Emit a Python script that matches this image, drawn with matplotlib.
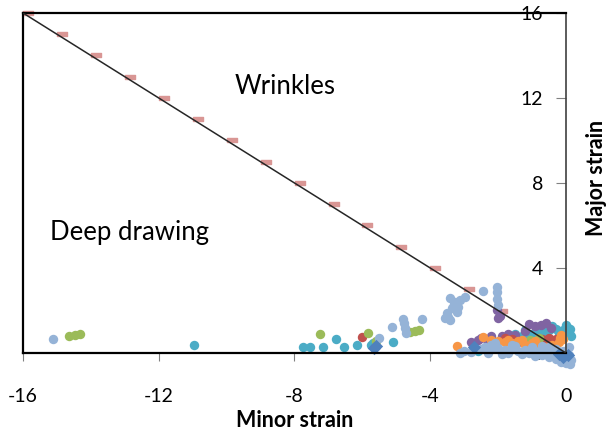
import numpy as np
import matplotlib
matplotlib.use("Agg")
import matplotlib.pyplot as plt
from matplotlib.path import Path

plt.rcParams['font.family'] = ['Lato', 'DejaVu Sans']

# forming limit boundary (wrinkle line) and its markers
line_x = [-16, 0]
line_y = [16, 0]
bound_y = [16, 15, 14, 13, 12, 11, 10, 9, 8, 7, 6, 5, 4, 3, 2, 1]
bound_x = [-15.85, -14.85, -13.85, -12.85, -11.85, -10.85, -9.85, -8.85,
           -7.85, -6.85, -5.85, -4.85, -3.86, -2.85, -1.89, -0.92]

# measured strain points, one list per series (x = minor, y = major)
lblue_x = [-15.12, -5.5, -5.14, -4.79, -4.77, -4.75, -4.72, -4.25,
           -3.57, -3.47, -3.42, -3.37, -3.17, -3.42, -3.27, -3.12, -2.98, -3.3,
           -3.5, -3.2, -2.44, -2.04, -2.04, -2.02, -2.0, -3.12, -3.0, -2.8,
           -2.5, -2.4, -2.2, -2.0, -1.8, -1.6, -1.4, -1.2, -1.0, -0.8, -0.6, -0.4,
           -0.2, 0.0, 0.1, -0.1, -0.3, -0.5, -0.7, -1.5, -2.2, -0.9, 0.15,
           -2.3, -1.9, -1.7, -1.3, -1.1, -0.7, -0.5, -0.3, 0.0, 0.12, -0.15,
           -1.0, -1.6, -2.1, -0.4, 0.08]
lblue_y = [0.64, 0.7, 1.24, 1.58, 1.40, 1.16, 0.96, 1.58,
           1.63, 1.71, 1.55, 2.10, 2.18, 2.57, 2.41, 2.49, 2.65, 2.3,
           1.9, 1.95, 2.93, 3.12, 2.85, 2.55, 2.26, 0.0, 0.1, 0.05,
           0.2, 0.3, 0.2, 0.25, 0.15, 0.2, 0.1, 0.15, 0.05, 0.1, 0.0, -0.05,
           -0.15, -0.25, -0.1, 0.1, 0.2, 0.3, 0.35, 0.35, 0.4, -0.15, -0.35,
           0.0, -0.05, 0.0, -0.05, 0.0, -0.1, -0.2, -0.3, -0.45, -0.5, -0.4,
           0.3, 0.4, 0.45, 0.1, 0.3]
green_x = [-14.64, -14.47, -14.32, -7.25, -5.83, -5.6, -4.6, -4.45, -4.32, -1.06, -0.8]
green_y = [0.80, 0.86, 0.89, 0.89, 0.96, 0.55, 1.0, 1.05, 1.08, 0.6, 0.7]
aqua_x = [-10.95, -7.76, -7.54, -7.17, -6.78, -6.54, -6.17, -5.69, -5.75, -5.11,
          -2.7, -2.6, -1.3, -1.1, -0.9, -0.7, -0.5, -0.3, -0.1, 0.1, 0.15,
          -0.2, -0.6, -1.0, 0.05, -1.2, -0.8, -0.4, 0.0, 0.12, -1.5]
aqua_y = [0.38, 0.27, 0.27, 0.27, 0.64, 0.30, 0.38, 0.47, 0.40, 0.53,
          0.2, 0.1, 0.8, 0.9, 1.0, 1.05, 1.1, 1.15, 1.1, 1.0, 0.8,
          0.95, 0.85, 0.75, 1.2, 1.1, 1.2, 1.25, 1.3, 1.15, 0.9]
red_x = [-6.02, -1.8, -1.6, -0.8, -0.6, -0.4, -0.5, -0.3, -0.7, -0.35]
red_y = [0.74, 0.7, 0.65, 0.55, 0.6, 0.55, 0.7, 0.65, 0.65, 0.5]
purple_x = [-2.04, -2.0, -1.95, -2.8, -2.6, -2.5, -2.3, -1.9, -1.7, -1.5,
            -1.2, -0.9, -0.6, -0.45, -1.4, -2.75, -2.2, -1.1, -0.75]
purple_y = [2.02, 1.63, 1.75, 0.5, 0.6, 0.7, 0.45, 0.8, 0.9, 0.85,
            1.05, 1.25, 1.4, 1.2, 0.5, 0.3, 0.8, 1.35, 1.3]
orange_x = [-3.2, -2.45, -2.2, -2.0, -1.8, -1.6, -1.4, -1.2, -1.0, -0.8,
            -0.6, -0.4, -0.2, -0.18, -0.1, -2.1, -1.7, -1.3, -0.9, -0.15]
orange_y = [0.33, 0.75, 0.6, 0.55, 0.5, 0.45, 0.55, 0.4, 0.45, 0.35,
            0.3, 0.4, 0.5, 0.7, 0.65, 0.45, 0.6, 0.6, 0.55, 0.85]
blue_x = [-5.66, -5.6, -2.7, -0.09, 0.05, -0.2]
blue_y = [0.24, 0.35, 0.3, -0.2, -0.1, -0.05]

fig = plt.figure(figsize=(6.08, 4.4), dpi=100)
ax = fig.add_axes([0.0378, 0.1977, 0.8931, 0.7728])

ax.plot(line_x, line_y, color="#262626", lw=1.1, zorder=3)
dash = Path([(-1, -0.45), (1, -0.45), (1, 0.45), (-1, 0.45), (-1, -0.45)],
            [1, 2, 2, 2, 79])
ax.scatter(bound_x, bound_y, marker=dash, s=55, color="#D99694", zorder=2, clip_on=False)

s = 46
ax.scatter(aqua_x, aqua_y, s=s, color="#4BACC6", lw=0, zorder=2, clip_on=False)
ax.scatter(purple_x, purple_y, s=s, color="#8064A2", lw=0, zorder=2, clip_on=False)
ax.scatter(red_x, red_y, s=s, color="#C0504D", lw=0, zorder=2, clip_on=False)
ax.scatter(green_x, green_y, s=s, color="#9BBB59", lw=0, zorder=2, clip_on=False)
ax.scatter(orange_x, orange_y, s=s, color="#F79646", lw=0, zorder=2, clip_on=False)
ax.scatter(lblue_x, lblue_y, s=s, color="#95B3D7", lw=0, zorder=2, clip_on=False)
ax.scatter(blue_x, blue_y, s=s, marker="D", color="#4F81BD", lw=0, zorder=2, clip_on=False)

ax.text(-8.28, 12.52, "Wrinkles", fontsize=18.5, ha="center", va="center")
ax.text(-12.85, 5.69, "Deep drawing", fontsize=18.5, ha="center", va="center")

ax.set_xlim(-16, 0)
ax.set_ylim(0, 16)
ax.set_xticks([-16, -12, -8, -4, 0])
ax.set_xticklabels(["-16", "-12", "-8", "-4", "0"])
ax.set_yticks([0, 4, 8, 12, 16])
ax.tick_params(axis="x", direction="out", length=6, color="#808080", pad=19, labelsize=14)
ax.yaxis.tick_right()
ax.tick_params(axis="y", direction="in", length=7, color="#808080", pad=-16.5, labelsize=14)
plt.setp(ax.get_yticklabels(), ha="right")

for side in ["left", "top", "bottom"]:
    ax.spines[side].set_linewidth(1.6)
    ax.spines[side].set_color("black")
ax.spines["right"].set_linewidth(1.2)
ax.spines["right"].set_color("#404040")

ax.set_xlabel("Minor strain", fontsize=15.5, fontweight="bold", labelpad=4)
fig.text(0.981, 0.595, "Major strain", rotation=90, fontsize=15.5, fontweight="bold",
         ha="center", va="center")

fig.savefig("out.png", dpi=100)
